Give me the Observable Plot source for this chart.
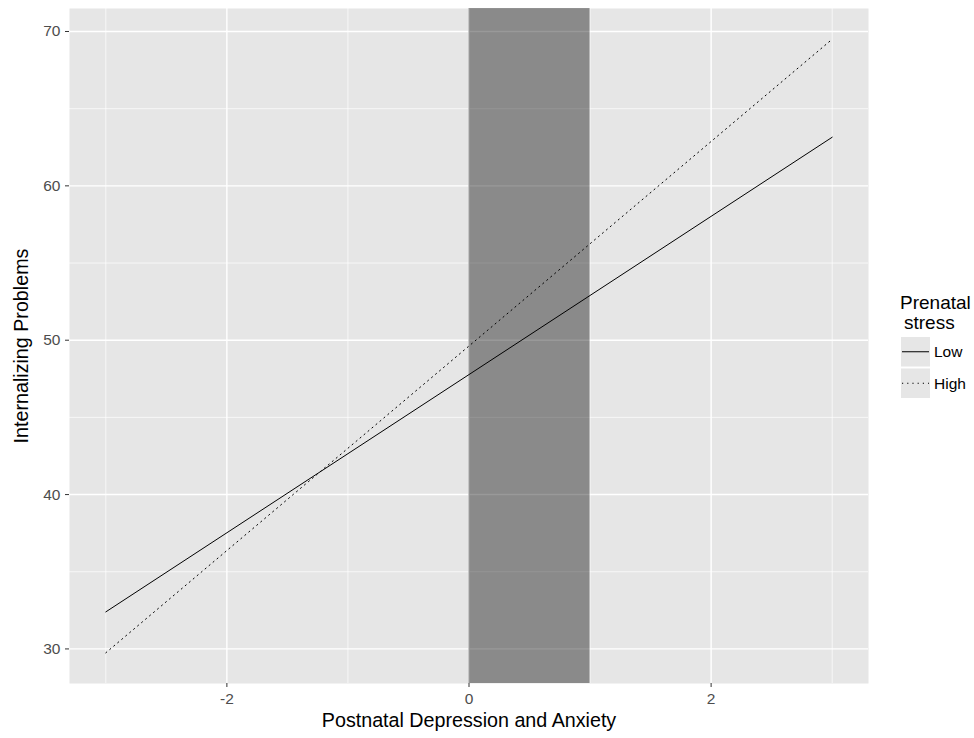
<!DOCTYPE html>
<html><head><meta charset="utf-8">
<script src="https://cdn.jsdelivr.net/npm/d3@7"></script>
<script src="https://cdn.jsdelivr.net/npm/@observablehq/plot@0.6"></script>
<style>
body{margin:0;background:#fff;font-family:"Liberation Sans",Arial,sans-serif;}
#wrap{position:relative;width:974px;height:738px;}
#legend{position:absolute;left:896px;top:288px;font-family:"Liberation Sans",Arial,sans-serif;}
</style></head><body><div id="wrap"></div>
<script>
const xBreaks = [-2, 0, 2];
const xMinor = [-3, -1, 1, 3];
const yBreaks = [30, 40, 50, 60, 70];
const yMinor = [35, 45, 55, 65];
const xDomain = [-3.3, 3.3];
const yDomain = [27.76, 71.49];
const xValues = [-3, 3];
const lowValues = [32.4, 63.15];
const highValues = [29.75, 69.5];
const series = ["Low", "High"];
const shadeX = [0, 1];
const xTitle = "Postnatal Depression and Anxiety";
const yTitle = "Internalizing Problems";
const legendTitle = ["Prenatal", "stress"];

const lowData = xValues.map((x, i) => ({x, y: lowValues[i], s: series[0]}));
const highData = xValues.map((x, i) => ({x, y: highValues[i], s: series[1]}));
const dash = {Low: null, High: "1.2,4"};

const chart = Plot.plot({
  width: 974, height: 738,
  marginLeft: 69, marginRight: 106, marginTop: 8, marginBottom: 55,
  style: {fontFamily: "'Liberation Sans', Arial, sans-serif", background: "white"},
  x: {domain: xDomain},
  y: {domain: yDomain},
  marks: [
    Plot.frame({fill: "#e6e6e6"}),
    Plot.ruleX(xMinor, {stroke: "white", strokeWidth: 0.7}),
    Plot.ruleY(yMinor, {stroke: "white", strokeWidth: 0.7}),
    Plot.ruleX(xBreaks, {stroke: "white", strokeWidth: 1.4}),
    Plot.ruleY(yBreaks, {stroke: "white", strokeWidth: 1.4}),
    Plot.rect([{x1: shadeX[0], x2: shadeX[1]}], {x1: "x1", x2: "x2", fill: "black", fillOpacity: 0.4}),
    Plot.line(lowData, {x: "x", y: "y", stroke: "black", strokeWidth: 1}),
    Plot.line(highData, {x: "x", y: "y", stroke: "black", strokeWidth: 1, strokeDasharray: dash.High}),
    Plot.axisX({ticks: xBreaks, tickSize: 4, tickPadding: 5, fontSize: 15.5, fill: "#4d4d4d", stroke: "#333", label: null, tickFormat: d => String(d)}),
    Plot.axisY({ticks: yBreaks, tickSize: 4, tickPadding: 5, fontSize: 15.5, fill: "#4d4d4d", stroke: "#333", label: null}),
    Plot.text([xTitle], {text: d => d, frameAnchor: "bottom", dy: 43, fontSize: 19.7, fill: "black"}),
    Plot.text([yTitle], {text: d => d, frameAnchor: "left", textAnchor: "middle", dx: -48, rotate: -90, fontSize: 19.7, fill: "black"})
  ]
});
const wrap = document.getElementById("wrap");
wrap.appendChild(chart);

// legend
const ns = "http://www.w3.org/2000/svg";
const lg = document.createElementNS(ns, "svg");
lg.setAttribute("id", "legend");
lg.setAttribute("width", 78);
lg.setAttribute("height", 115);
let html = "";
legendTitle.forEach((t, i) => {
  html += `<text x="${4 + i * 4}" y="${21 + i * 20}" font-size="19" fill="black">${t}</text>`;
});
series.forEach((s, i) => {
  const y0 = 49 + i * 31.5;
  html += `<rect x="5" y="${y0}" width="29" height="29.5" fill="#e6e6e6"/>`;
  html += `<line x1="6" x2="33" y1="${y0 + 14.75}" y2="${y0 + 14.75}" stroke="black" stroke-width="1" ${dash[s] ? `stroke-dasharray="${dash[s]}"` : ""}/>`;
  html += `<text x="38" y="${y0 + 14.75}" dy="0.35em" font-size="15.5" fill="black">${s}</text>`;
});
lg.innerHTML = html;
wrap.appendChild(lg);
</script></body></html>
